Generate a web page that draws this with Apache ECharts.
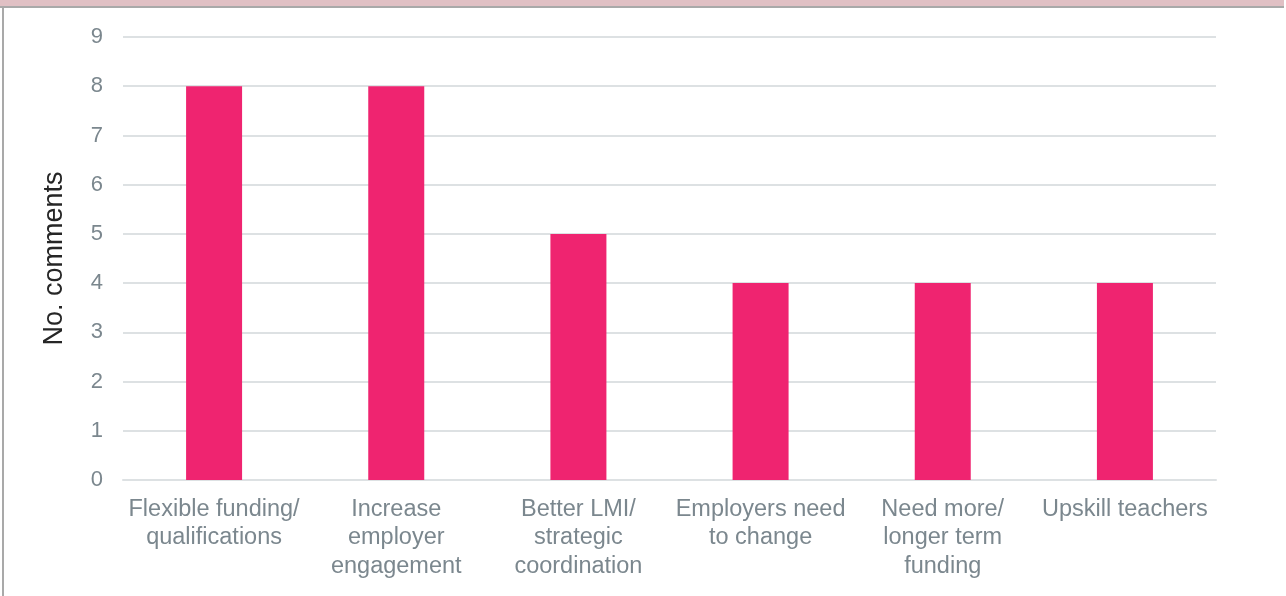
<!DOCTYPE html>
<html>
<head>
<meta charset="utf-8">
<style>
  html, body { margin: 0; padding: 0; background: #fff; }
  #frame { position: absolute; left: 0; top: 0; width: 1286px; height: 596px; box-sizing: border-box; }
  #topband { position: absolute; left: 0; top: 0; width: 1284px; height: 6px; background: #e0c0c4; border-bottom: 2px solid #a9a9a9; }
  #leftline { position: absolute; left: 2px; top: 6px; width: 2px; height: 590px; background: #a9a9a9; }
  #chart { position: absolute; left: 0; top: 0; width: 1286px; height: 596px; }
</style>
<script src="https://cdn.jsdelivr.net/npm/echarts@6/dist/echarts.min.js"></script>
</head>
<body>
<div id="frame">
  <div id="chart"></div>
  <div id="topband"></div>
  <div id="leftline"></div>
</div>
<script>
const categories = [
  'Flexible funding/\nqualifications',
  'Increase\nemployer\nengagement',
  'Better LMI/\nstrategic\ncoordination',
  'Employers need\nto change',
  'Need more/\nlonger term\nfunding',
  'Upskill teachers'
];
const comments = [8, 8, 5, 4, 4, 4];
const yTicks = { min: 0, max: 9, interval: 1 };

const chart = echarts.init(document.getElementById('chart'), null, { renderer: 'canvas' });
chart.setOption({
  animation: false,
  textStyle: { fontFamily: 'Liberation Sans, Arial, sans-serif' },
  grid: { left: 123, right: 70, top: 37, bottom: 116 },
  xAxis: {
    type: 'category',
    data: categories,
    axisLine: { show: true, lineStyle: { color: '#dde1e3', width: 2 } },
    axisTick: { show: false },
    axisLabel: {
      color: '#7b878e',
      fontSize: 23.5,
      lineHeight: 28.5,
      margin: 15,
      interval: 0
    }
  },
  yAxis: {
    type: 'value',
    min: yTicks.min,
    max: yTicks.max,
    interval: yTicks.interval,
    name: 'No. comments',
    nameLocation: 'middle',
    nameGap: 55,
    nameTextStyle: { color: '#262626', fontSize: 27 },
    axisLine: { show: false },
    axisTick: { show: false },
    axisLabel: { color: '#7b878e', fontSize: 22, margin: 20 },
    splitLine: { lineStyle: { color: '#dde1e3', width: 2 } }
  },
  series: [{
    type: 'bar',
    data: comments,
    barWidth: 56,
    itemStyle: { color: '#ef2470' }
  }]
});
</script>
</body>
</html>
